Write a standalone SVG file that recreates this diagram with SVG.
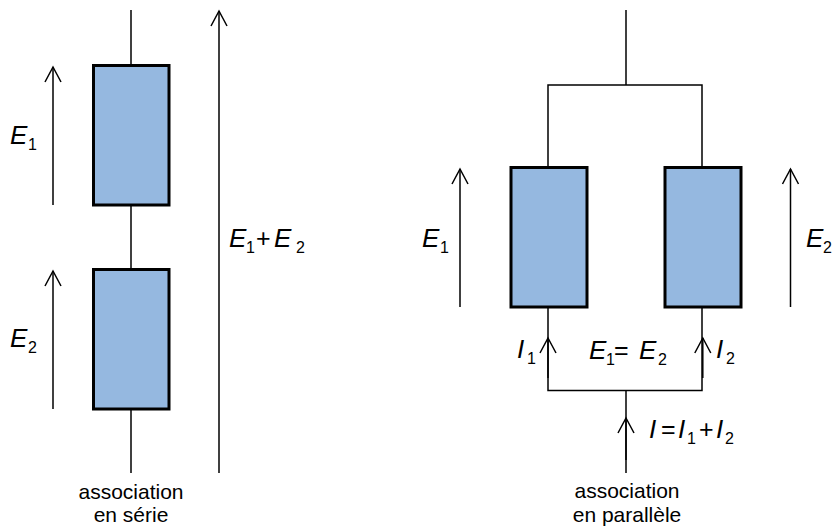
<svg xmlns="http://www.w3.org/2000/svg" width="832" height="530" viewBox="0 0 832 530">
<style>
.w{stroke:#000;stroke-width:1.5;fill:none}
.box{fill:#95B8E0;stroke:#000;stroke-width:3}
.arr{stroke:#000;stroke-width:1.5;fill:none;marker-end:url(#ah)}
.v{font-family:"Liberation Sans",Arial,sans-serif;font-style:italic;font-size:26px;fill:#000}
.s{font-family:"Liberation Sans",Arial,sans-serif;font-style:normal;font-size:16px;fill:#000}
.o{font-family:"Liberation Sans",Arial,sans-serif;font-style:normal;font-size:25px;fill:#000}
.cap{font-family:"Liberation Sans",Arial,sans-serif;font-size:21px;fill:#000;text-anchor:middle}
</style>
<defs>
<marker id="ah" markerUnits="userSpaceOnUse" markerWidth="20" markerHeight="20" viewBox="-16 -10 20 20" refX="0" refY="0" orient="auto">
<path d="M-15,-8 L0,0 L-15,8" fill="none" stroke="#000" stroke-width="1.5"/>
</marker>
</defs>
<g id="connectors">
<line class="w" x1="131" y1="10" x2="131" y2="65"/>
<line class="w" x1="131" y1="205" x2="131" y2="269"/>
<line class="w" x1="131" y1="409" x2="131" y2="473"/>
<line class="w" x1="626" y1="10" x2="626" y2="85"/>
<polyline class="w" points="548,167 548,85 702,85 702,167"/>
<polyline class="w" points="548,307 548,390.5 702,390.5 702,307"/>
<line class="w" x1="626" y1="390.5" x2="626" y2="473"/>
</g>
<g id="arrows">
<line class="arr" x1="53" y1="205" x2="53" y2="67"/>
<line class="arr" x1="53" y1="409" x2="53" y2="271"/>
<line class="arr" x1="219" y1="473" x2="219" y2="11"/>
<line class="arr" x1="460" y1="307" x2="460" y2="169"/>
<line class="arr" x1="790.5" y1="307" x2="790.5" y2="169"/>
<line class="arr" x1="548" y1="378" x2="548" y2="338"/>
<line class="arr" x1="702.8" y1="378" x2="702.8" y2="338"/>
<line class="arr" x1="626" y1="460" x2="626" y2="418"/>
</g>
<g id="series-box1"><rect class="box" x="93.5" y="65.5" width="75.5" height="139.5"/></g>
<g id="series-box2"><rect class="box" x="93.5" y="269.5" width="75.5" height="139.5"/></g>
<g id="parallel-box1"><rect class="box" x="511" y="167.5" width="76" height="139.5"/></g>
<g id="parallel-box2"><rect class="box" x="665" y="167.5" width="76" height="139.5"/></g>
<g id="labels">
<text class="v" x="10" y="144">E<tspan class="s" x="28" y="150">1</tspan></text>
<text class="v" x="10" y="347">E<tspan class="s" x="28" y="353">2</tspan></text>
<text class="v" x="229" y="247">E<tspan class="s" x="246" y="253">1</tspan><tspan class="o" x="256" y="247">+</tspan><tspan x="274" y="247">E</tspan><tspan class="s" x="296" y="253">2</tspan></text>
<text class="v" x="422" y="247">E<tspan class="s" x="440" y="253">1</tspan></text>
<text class="v" x="806" y="247">E<tspan class="s" x="823" y="253">2</tspan></text>
<text class="v" x="517" y="358">I<tspan class="s" x="527" y="364">1</tspan></text>
<text class="v" x="589" y="359">E<tspan class="s" x="606" y="365">1</tspan><tspan class="o" x="614" y="359">=</tspan><tspan x="639" y="359">E</tspan><tspan class="s" x="658" y="365">2</tspan></text>
<text class="v" x="716" y="358">I<tspan class="s" x="726" y="364">2</tspan></text>
<text class="v" x="649" y="438">I<tspan class="o" x="661" y="438">=</tspan><tspan x="678" y="438">I</tspan><tspan class="s" x="687" y="444">1</tspan><tspan class="o" x="699" y="438">+</tspan><tspan x="716" y="438">I</tspan><tspan class="s" x="725" y="444">2</tspan></text>
<text class="cap" x="131" y="499">association</text>
<text class="cap" x="131" y="522">en série</text>
<text class="cap" x="627" y="498">association</text>
<text class="cap" x="627" y="522">en parallèle</text>
</g>
</svg>
